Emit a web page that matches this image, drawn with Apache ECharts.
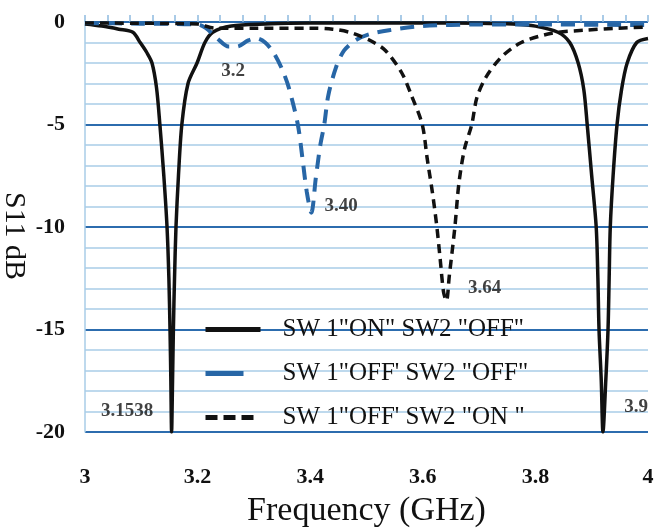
<!DOCTYPE html>
<html>
<head>
<meta charset="utf-8">
<script src="https://cdn.jsdelivr.net/npm/echarts@6/dist/echarts.min.js"></script>
<style>
  html, body { margin: 0; padding: 0; background: #fff; }
  #chart { width: 655px; height: 529px; }
</style>
</head>
<body>
<div id="chart"></div>
<script>
// S11 (dB) vs frequency (GHz)
const swOnOff = [
  [3.000, -0.1], [3.030, -0.2], [3.060, -0.35], [3.085, -0.5], [3.098, -1], [3.110, -1.5],
  [3.119, -2], [3.127, -3.2], [3.133, -5], [3.140, -7.5], [3.1457, -10], [3.149, -12.5],
  [3.151, -15], [3.1525, -17.5], [3.1538, -20], [3.1555, -17.5], [3.157, -15], [3.159, -12.5],
  [3.1616, -10], [3.166, -7.5], [3.172, -5], [3.183, -3], [3.199, -2], [3.213, -1],
  [3.227, -0.5], [3.260, -0.2], [3.320, -0.1], [3.400, -0.05], [3.600, -0.05], [3.700, -0.06],
  [3.760, -0.1], [3.800, -0.2], [3.840, -0.5], [3.861, -1], [3.876, -2], [3.886, -3.3],
  [3.892, -5], [3.900, -7.5], [3.908, -10], [3.911, -12.5], [3.913, -15], [3.917, -17.5],
  [3.920, -20], [3.925, -17.5], [3.929, -15], [3.931, -12.5], [3.933, -10], [3.938, -7.5],
  [3.945, -5], [3.953, -3.3], [3.963, -2], [3.980, -1], [4.000, -0.8]
]
const swOffOff = [
  [3.000, -0.05], [3.100, -0.08], [3.200, -0.12], [3.215, -0.3], [3.235, -0.8], [3.255, -1.2],
  [3.270, -1.2], [3.290, -0.9], [3.305, -0.8], [3.320, -1.0], [3.335, -1.5], [3.350, -2.3],
  [3.362, -3.2], [3.378, -5], [3.386, -6.6], [3.394, -8.3], [3.402, -9.3], [3.410, -7.6],
  [3.418, -6], [3.425, -5], [3.432, -3.6], [3.446, -2.2], [3.460, -1.4], [3.480, -0.9],
  [3.504, -0.6], [3.540, -0.4], [3.600, -0.2], [3.700, -0.12], [3.800, -0.12], [4.000, -0.15]
]
const swOffOn = [
  [3.000, -0.05], [3.200, -0.1], [3.230, -0.3], [3.300, -0.3], [3.400, -0.3], [3.440, -0.35],
  [3.470, -0.5], [3.490, -0.7], [3.510, -0.95], [3.534, -1.4], [3.563, -2.5], [3.580, -3.6],
  [3.599, -5], [3.608, -6.7], [3.617, -8.3], [3.625, -10], [3.631, -11.6], [3.637, -13.2],
  [3.642, -13.6], [3.647, -12.4], [3.657, -10], [3.664, -7.9], [3.674, -6.2], [3.687, -5],
  [3.696, -3.7], [3.712, -2.7], [3.740, -1.7], [3.775, -1.0], [3.829, -0.55], [3.888, -0.4],
  [3.947, -0.3], [4.000, -0.25]
]
const seriesNames = ['SW 1"ON" SW2 "OFF"', 'SW 1"OFF\' SW2 "OFF"', 'SW 1"OFF\' SW2 "ON "']
// resonance annotations: [freq, dB, text]
const notes = [
  [3.263, -2.4, '3.2'],
  [3.455, -9.0, '3.40'],
  [3.710, -13.0, '3.64'],
  [3.075, -19.0, '3.1538'],
  [3.979, -18.8, '3.9']
]

const serif = 'Liberation Serif'
const majorColor = '#2c6cae'
const minorColor = '#a9cde7'
const blueLine = '#2766a6'

const chart = echarts.init(document.getElementById('chart'))
chart.setOption({
  backgroundColor: '#fff',
  animation: false,
  grid: { left: 85, right: 7, top: 22, bottom: 97, outerBoundsMode: 'none' },
  legend: {
    orient: 'vertical',
    left: 198,
    top: 312,
    itemWidth: 55,
    itemHeight: 14,
    itemGap: 19,
    itemStyle: { opacity: 0 },
    textStyle: { fontFamily: serif, fontSize: 25, color: '#111', padding: [0, 0, 0, 17] },
    data: [
      { name: seriesNames[0], lineStyle: { width: 5 } },
      { name: seriesNames[1], lineStyle: { width: 5, type: [38, 100] } },
      { name: seriesNames[2], lineStyle: { width: 5, type: [12, 6, 12, 6, 12, 30] } }
    ]
  },
  xAxis: [
    {
      type: 'value',
      min: 3,
      max: 4,
      interval: 0.2,
      name: 'Frequency (GHz)',
      nameLocation: 'middle',
      nameGap: 62,
      nameTextStyle: { fontFamily: serif, fontSize: 34, color: '#111' },
      axisLine: { show: false },
      axisTick: { show: false },
      splitLine: { show: false },
      axisLabel: {
        margin: 34,
        fontFamily: serif,
        fontSize: 22,
        fontWeight: 'bold',
        color: '#111',
        formatter: v => String(+v.toFixed(1))
      }
    },
    {
      type: 'value',
      position: 'top',
      min: 3,
      max: 4,
      interval: 0.04,
      axisLine: { show: false },
      axisLabel: { show: false },
      splitLine: { show: false },
      axisTick: { show: true, length: 7, lineStyle: { color: '#8fbbe0', width: 1.5 } }
    }
  ],
  yAxis: {
    type: 'value',
    min: -20,
    max: 0,
    interval: 5,
    name: 'S11 dB',
    nameLocation: 'middle',
    nameRotate: -90,
    nameGap: 56,
    nameMoveOverlap: false,
    nameTextStyle: { fontFamily: serif, fontSize: 30, color: '#111', padding: [0, 0, 0, 18] },
    axisLine: { show: true, lineStyle: { color: minorColor, width: 1.5 } },
    axisTick: { show: false },
    axisLabel: { margin: 20, fontFamily: serif, fontSize: 22, fontWeight: 'bold', color: '#111' },
    splitLine: { show: true, lineStyle: { color: majorColor, width: 2 } },
    minorTick: { show: false, splitNumber: 5 },
    minorSplitLine: { show: true, lineStyle: { color: minorColor, width: 1.5 } }
  },
  series: [
    {
      name: seriesNames[0],
      type: 'line',
      data: swOnOff,
      smooth: 0.3,
      symbol: 'none',
      lineStyle: { color: '#111', width: 3.5 },
      itemStyle: { color: '#111' }
    },
    {
      name: seriesNames[1],
      type: 'line',
      data: swOffOff,
      smooth: 0.3,
      symbol: 'none',
      lineStyle: { color: blueLine, width: 4, type: [14, 9] },
      itemStyle: { color: blueLine }
    },
    {
      name: seriesNames[2],
      type: 'line',
      data: swOffOn,
      smooth: 0.3,
      symbol: 'none',
      lineStyle: { color: '#111', width: 3.5, type: [9, 6] },
      itemStyle: { color: '#111' }
    },
    {
      type: 'scatter',
      symbolSize: 0,
      silent: true,
      data: notes.map(n => ({ value: [n[0], n[1]], name: n[2] })),
      label: {
        show: true,
        position: 'inside',
        formatter: p => p.name,
        fontFamily: serif,
        fontSize: 19,
        fontWeight: 'bold',
        color: '#111'
      }
    }
  ]
})
</script>
</body>
</html>
